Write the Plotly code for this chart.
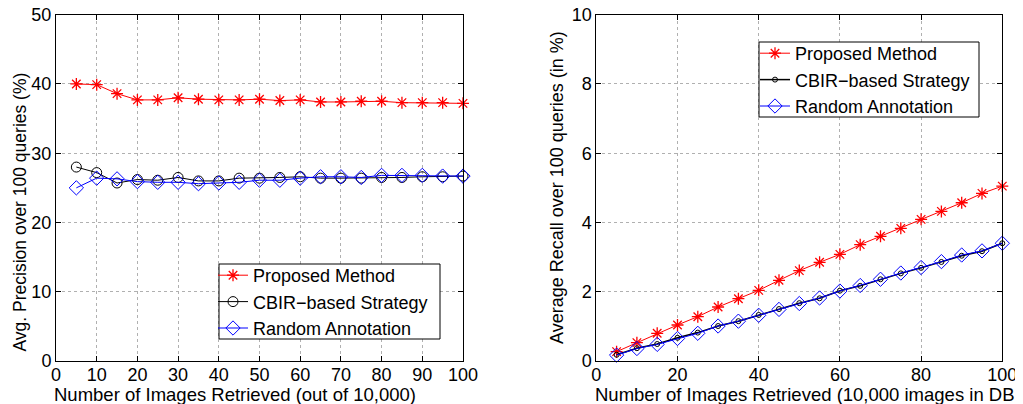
import plotly.graph_objects as go

# ---- data ----
n_images = [5, 10, 15, 20, 25, 30, 35, 40, 45, 50, 55, 60, 65, 70, 75, 80, 85, 90, 95, 100]

prec_proposed = [40.0, 39.9, 38.6, 37.7, 37.7, 38.0, 37.8, 37.7, 37.7, 37.8,
                 37.6, 37.7, 37.4, 37.4, 37.5, 37.5, 37.3, 37.3, 37.3, 37.2]
prec_cbir = [28.0, 27.2, 25.7, 26.2, 26.1, 26.5, 26.0, 26.0, 26.4, 26.4,
             26.5, 26.6, 26.4, 26.4, 26.4, 26.5, 26.5, 26.6, 26.6, 26.7]
prec_random = [25.0, 26.4, 26.3, 25.9, 25.8, 25.8, 25.6, 25.7, 25.8, 26.1,
               26.1, 26.4, 26.6, 26.6, 26.5, 26.8, 26.8, 26.8, 26.7, 26.7]

rec_proposed = [0.27, 0.53, 0.80, 1.04, 1.28, 1.56, 1.80, 2.04, 2.33, 2.61,
                2.85, 3.08, 3.36, 3.60, 3.83, 4.09, 4.32, 4.57, 4.84, 5.05]
rec_cbir = [0.18, 0.37, 0.49, 0.67, 0.82, 1.01, 1.15, 1.33, 1.50, 1.67,
            1.81, 2.03, 2.17, 2.36, 2.53, 2.69, 2.86, 3.04, 3.17, 3.40]
rec_random = [0.17, 0.36, 0.48, 0.65, 0.80, 1.01, 1.15, 1.32, 1.49, 1.66,
              1.82, 2.02, 2.18, 2.36, 2.54, 2.70, 2.87, 3.06, 3.18, 3.40]

series_names = ["Proposed Method", "CBIR\u2212based Strategy", "Random Annotation"]
left_xticks = [0, 10, 20, 30, 40, 50, 60, 70, 80, 90, 100]
left_yticks = [0, 10, 20, 30, 40, 50]
right_xticks = [0, 20, 40, 60, 80, 100]
right_yticks = [0, 2, 4, 6, 8, 10]

left_xtitle = "Number of Images Retrieved (out of 10,000)"
left_ytitle = "Avg. Precision over 100 queries (%)"
right_xtitle = "Number of Images Retrieved (10,000 images in DB"
right_ytitle = "Average Recall over 100 queries (in %)"

# ---- layout helpers (page pixels -> paper fractions; page has an 8px body margin) ----
W, H, OFF = 1023, 404, 8


def fx(px):
    return (px - OFF) / W


def fy(py):
    return 1 - (py - OFF) / H


FONT = "Liberation Sans, Arial, Helvetica, sans-serif"
RED, BLACK, BLUE = "#ff0000", "#000000", "#0000ff"

fig = go.Figure()

# Left panel
fig.add_trace(go.Scatter(x=n_images, y=prec_proposed, name=series_names[0], mode="lines+markers",
                         line=dict(color=RED, width=1), cliponaxis=False,
                         marker=dict(symbol="asterisk-open", size=10, color=RED, line=dict(color=RED, width=1.3)),
                         xaxis="x", yaxis="y", legend="legend"))
fig.add_trace(go.Scatter(x=n_images, y=prec_cbir, name=series_names[1], mode="lines+markers",
                         line=dict(color=BLACK, width=1), cliponaxis=False,
                         marker=dict(symbol="circle-open", size=10, color=BLACK, line=dict(color=BLACK, width=1)),
                         xaxis="x", yaxis="y", legend="legend"))
fig.add_trace(go.Scatter(x=n_images, y=prec_random, name=series_names[2], mode="lines+markers",
                         line=dict(color=BLUE, width=1), cliponaxis=False,
                         marker=dict(symbol="diamond-open", size=11, color=BLUE, line=dict(color=BLUE, width=1)),
                         xaxis="x", yaxis="y", legend="legend"))

# Right panel
fig.add_trace(go.Scatter(x=n_images, y=rec_proposed, name=series_names[0], mode="lines+markers",
                         line=dict(color=RED, width=1), cliponaxis=False,
                         marker=dict(symbol="asterisk-open", size=10, color=RED, line=dict(color=RED, width=1.3)),
                         xaxis="x2", yaxis="y2", legend="legend2"))
fig.add_trace(go.Scatter(x=n_images, y=rec_cbir, name=series_names[1], mode="lines+markers",
                         line=dict(color=BLACK, width=1.5), cliponaxis=False,
                         marker=dict(symbol="circle-open", size=5, color=BLACK, line=dict(color=BLACK, width=1)),
                         xaxis="x2", yaxis="y2", legend="legend2"))
fig.add_trace(go.Scatter(x=n_images, y=rec_random, name=series_names[2], mode="lines+markers",
                         line=dict(color=BLUE, width=1), cliponaxis=False,
                         marker=dict(symbol="diamond-open", size=11, color=BLUE, line=dict(color=BLUE, width=1)),
                         xaxis="x2", yaxis="y2", legend="legend2"))

axis_common = dict(showline=True, linecolor="black", linewidth=1, mirror="allticks",
                   ticks="inside", ticklen=5, tickcolor="black", automargin=False,
                   showgrid=True, gridcolor="#b0b0b0", griddash="dot", gridwidth=1,
                   zeroline=False, ticklabeloverflow="allow",
                   tickfont=dict(size=18, color="black", family=FONT))

legend_common = dict(xanchor="left", yanchor="top", bgcolor="rgba(0,0,0,0)",
                     borderwidth=0, font=dict(size=18, family=FONT),
                     tracegroupgap=0, itemwidth=30)

fig.update_layout(
    width=W, height=H,
    margin=dict(l=0, r=0, t=0, b=0),
    paper_bgcolor="white", plot_bgcolor="white",
    font=dict(family=FONT, color="black", size=18),
    xaxis=dict(domain=[fx(56), fx(463)], range=[0, 100], tickvals=left_xticks,
               anchor="y", ticklabelstandoff=-3, **axis_common),
    yaxis=dict(domain=[fy(361), fy(14.7)], range=[0, 50], tickvals=left_yticks,
               anchor="x", **axis_common),
    xaxis2=dict(domain=[fx(596.3), fx(1002.3)], range=[0, 100], tickvals=right_xticks,
                anchor="y2", ticklabelstandoff=-3, **axis_common),
    yaxis2=dict(domain=[fy(361), fy(14.7)], range=[0, 10], tickvals=right_yticks,
                anchor="x2", **axis_common),
    legend=dict(x=fx(213), y=fy(257), **legend_common),
    legend2=dict(x=fx(755), y=fy(35), **legend_common),
    showlegend=True,
)

# Legend boxes (opaque, black border)
for (x0, y0, x1, y1) in [(219, 264, 440, 339), (759, 42, 979, 117)]:
    fig.add_shape(type="rect", xref="paper", yref="paper",
                  x0=fx(x0), x1=fx(x1), y0=fy(y1), y1=fy(y0),
                  line=dict(color="black", width=1), fillcolor="white", layer="above")

title_font = dict(size=18.5, family=FONT, color="black")
fig.add_annotation(text=left_xtitle, xref="paper", yref="paper", x=fx(52), y=fy(394),
                   xanchor="left", yanchor="middle", showarrow=False, font=title_font)
fig.add_annotation(text=right_xtitle, xref="paper", yref="paper", x=fx(593), y=fy(394),
                   xanchor="left", yanchor="middle", showarrow=False, font=title_font)
fig.add_annotation(text=left_ytitle, xref="paper", yref="paper", x=fx(19.5), y=fy(212),
                   xanchor="center", yanchor="middle", textangle=-90, showarrow=False,
                   font=dict(size=17.5, family=FONT, color="black"))
fig.add_annotation(text=right_ytitle, xref="paper", yref="paper", x=fx(557), y=fy(188),
                   xanchor="center", yanchor="middle", textangle=-90, showarrow=False,
                   font=dict(size=18, family=FONT, color="black"))

fig.write_html("out.html")
